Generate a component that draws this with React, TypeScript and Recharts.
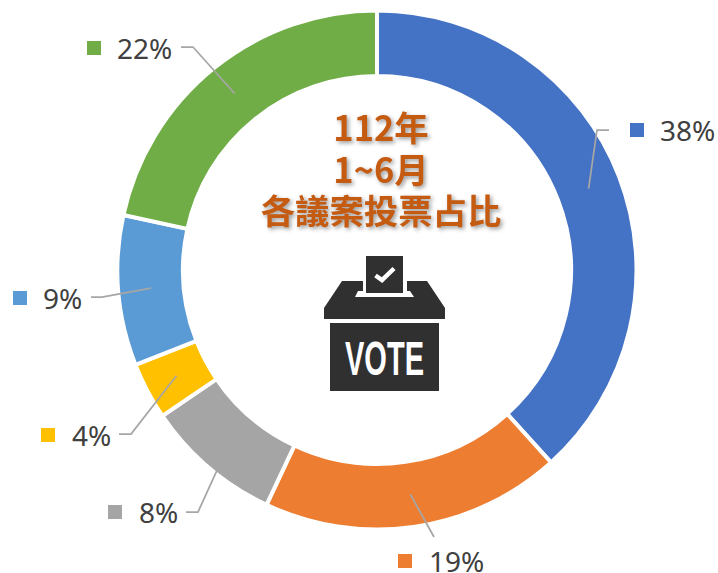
import React from 'react';
import { PieChart, Pie, Cell } from 'recharts';

const CATEGORIES = ['A', 'B', 'C', 'D', 'E', 'F'];
const VALUES = [38.3, 18.7, 8.5, 3.55, 9.35, 21.6];
const LABELS = ['38%', '19%', '8%', '4%', '9%', '22%'];
const COLORS = ['#4472C4', '#ED7D31', '#A5A5A5', '#FFC000', '#5B9BD5', '#70AD47'];
const TITLE_LINES = ['112年', '1~6月', '各議案投票占比'];

const chartData = CATEGORIES.map((name, i) => ({ name, value: VALUES[i] }));

const CX = 377;
const CY = 270;
const OUTER = 259.5;
const INNER = 194;

// label layout: elbow point, end of leader, marker box, text x
const LABEL_LAYOUT = [
  { elbow: [597, 130], end: [609, 130], marker: [630, 123], text: 660 },
  { elbow: [434, 537], end: [434, 537], marker: [398, 554], text: 429 },
  { elbow: [198, 512], end: [186, 512], marker: [108, 505], text: 139 },
  { elbow: [131, 434], end: [119, 434], marker: [41, 428], text: 72 },
  { elbow: [102, 297], end: [91, 297], marker: [13, 291], text: 43 },
  { elbow: [193, 47], end: [181, 47], marker: [87, 41], text: 117 },
];

const RADIAN = Math.PI / 180;

const renderLabel = (props: any) => {
  const { cx, cy, midAngle, innerRadius, outerRadius, index } = props;
  const r = (innerRadius + outerRadius) / 2;
  const x = cx + r * Math.cos(-midAngle * RADIAN);
  const y = cy + r * Math.sin(-midAngle * RADIAN);
  const l = LABEL_LAYOUT[index];
  return (
    <g key={index}>
      <polyline
        points={`${x},${y} ${l.elbow[0]},${l.elbow[1]} ${l.end[0]},${l.end[1]}`}
        fill="none"
        stroke="#A6A6A6"
        strokeWidth={1.75}
      />
      <rect x={l.marker[0]} y={l.marker[1]} width={14} height={14} fill={COLORS[index]} />
      <text
        x={l.text}
        y={l.marker[1] + 18}
        fontFamily="'Noto Sans', sans-serif"
        fontSize={28}
        fill="#404040"
      >
        {LABELS[index]}
      </text>
    </g>
  );
};

const CenterArt = () => (
  <g>
    <g
      textAnchor="middle"
      fontFamily="'Noto Sans CJK TC', sans-serif"
      fontWeight={700}
      fontSize={34.4}
      fill="#C55A11"
      style={{ filter: 'drop-shadow(2px 2px 2px rgba(0,0,0,0.4))' }}
    >
      {TITLE_LINES.map((line, i) => (
        <text key={line} x={381} y={[141, 183, 224][i]}>
          {line}
        </text>
      ))}
    </g>
    <g fill="#303030">
      <rect x={366} y={256} width={37} height={37} />
      <polyline points="375.5,275.5 382,280 394,268.5" fill="none" stroke="#fff" strokeWidth={4.5} />
      <path d="M324 308 L342 281 L363 281 L363 291 L358 291 L355 297 L414 297 L410 291 L407 291 L407 281 L427 281 L445 308 L445 319 L324 319 Z" />
      <rect x={330} y={323} width={109} height={68} />
      <text
        x={384.5}
        y={375}
        textAnchor="middle"
        fontFamily="'Liberation Sans', sans-serif"
        fontWeight={700}
        fontSize={48}
        fill="#fff"
        textLength={79}
        lengthAdjust="spacingAndGlyphs"
      >
        VOTE
      </text>
    </g>
  </g>
);

export default function App() {
  return (
    <div style={{ position: 'absolute', left: 0, top: 0, width: 718, height: 573 }}>
      <PieChart width={718} height={573} margin={{ top: 0, right: 0, bottom: 0, left: 0 }}>
        <Pie
          data={chartData}
          dataKey="value"
          cx={CX}
          cy={CY}
          innerRadius={INNER}
          outerRadius={OUTER}
          startAngle={90}
          endAngle={-270}
          stroke="#fff"
          strokeWidth={4}
          label={renderLabel}
          labelLine={false}
          isAnimationActive={false}
        >
          {chartData.map((entry, i) => (
            <Cell key={entry.name} fill={COLORS[i]} />
          ))}
        </Pie>
        <CenterArt />
      </PieChart>
    </div>
  );
}
